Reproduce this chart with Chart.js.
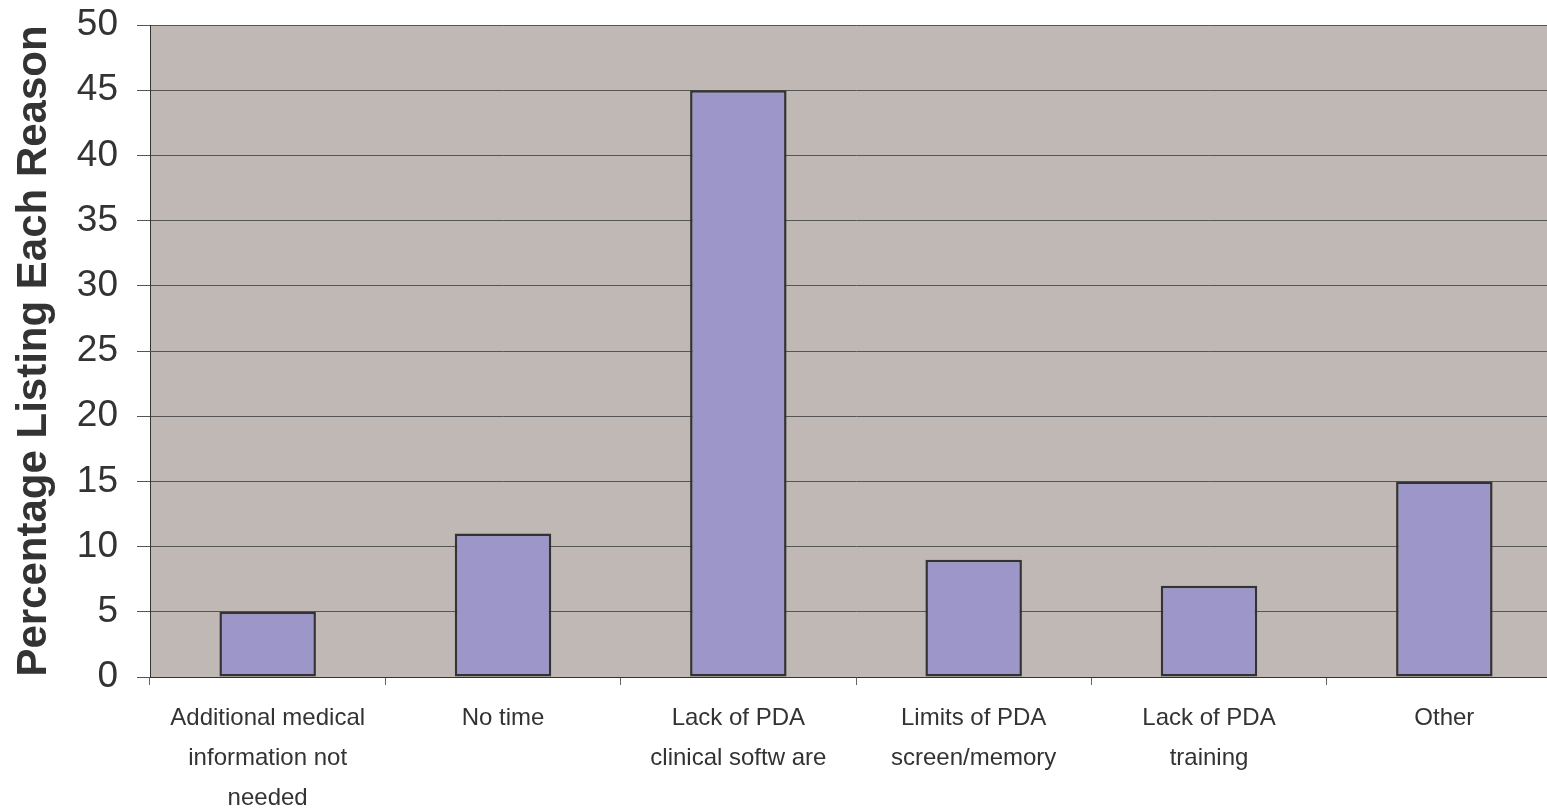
<!DOCTYPE html>
<html>
<head>
<meta charset="utf-8">
<script src="https://cdn.jsdelivr.net/npm/chart.js@4.4.1/dist/chart.umd.min.js"></script>
<style>
  html, body { margin: 0; padding: 0; background: #ffffff; overflow: hidden; }
  #wrap { position: relative; width: 1563px; height: 811px; }
</style>
</head>
<body>
<div id="wrap"><canvas id="chart"></canvas></div>
<script>
// Reasons given and the share of respondents listing each one
const categories = [
  ['Additional medical', 'information not', 'needed'],
  'No time',
  ['Lack of PDA', 'clinical softw are'],
  ['Limits of PDA', 'screen/memory'],
  ['Lack of PDA', 'training'],
  'Other'
];
const percentages = [5, 11, 45, 9, 7, 15];
const yTicks = [0, 5, 10, 15, 20, 25, 30, 35, 40, 45, 50];
const yAxisTitle = 'Percentage Listing Each Reason';

// Shaded plotting area behind the bars
const plotBackground = {
  id: 'plotBackground',
  beforeDraw(chart) {
    const { ctx, chartArea } = chart;
    ctx.save();
    ctx.fillStyle = '#c0b8b5';
    ctx.fillRect(chartArea.left, chartArea.top, chartArea.right - chartArea.left, chartArea.bottom - chartArea.top);
    ctx.restore();
  }
};

new Chart(document.getElementById('chart'), {
  type: 'bar',
  data: {
    labels: categories,
    datasets: [{
      data: percentages,
      backgroundColor: '#9c96c9',
      borderColor: '#333333',
      borderWidth: 2.5,
      borderSkipped: false,
      barPercentage: 1,
      categoryPercentage: 0.41
    }]
  },
  options: {
    responsive: true,
    maintainAspectRatio: false,
    animation: false,
    layout: { padding: { top: 25, right: 1, left: 0, bottom: 0 } },
    plugins: {
      legend: { display: false },
      tooltip: { enabled: false }
    },
    scales: {
      x: {
        grid: {
          offset: true,
          drawOnChartArea: false,
          drawTicks: true,
          tickLength: 8,
          color: '#666666'
        },
        border: { display: true, color: '#333333', width: 1 },
        ticks: {
          color: '#333333',
          maxRotation: 0,
          autoSkip: false,
          padding: 13,
          font: { family: '"Liberation Sans", Arial, sans-serif', size: 24, lineHeight: 1.667 }
        },
        afterFit(scale) {
          scale.height = 134;
          scale.paddingLeft = 0;
          scale.paddingRight = 0;
        }
      },
      y: {
        min: 0,
        max: 50,
        afterBuildTicks(scale) { scale.ticks = yTicks.map(v => ({ value: v })); },
        grid: {
          color: '#555555',
          lineWidth: 1,
          tickLength: 13,
          drawTicks: true
        },
        border: { display: true, color: '#333333', width: 1 },
        ticks: {
          color: '#333333',
          padding: 19,
          font: { family: '"Liberation Sans", Arial, sans-serif', size: 37 }
        },
        title: {
          display: true,
          text: yAxisTitle,
          color: '#333333',
          padding: { top: 9, bottom: 0 },
          font: { family: '"Liberation Sans", Arial, sans-serif', size: 42, weight: 'bold' }
        },
        afterFit(scale) {
          scale.width = 150;
          scale.paddingTop = 0;
          scale.paddingBottom = 0;
        }
      }
    }
  },
  plugins: [plotBackground]
});
</script>
</body>
</html>
